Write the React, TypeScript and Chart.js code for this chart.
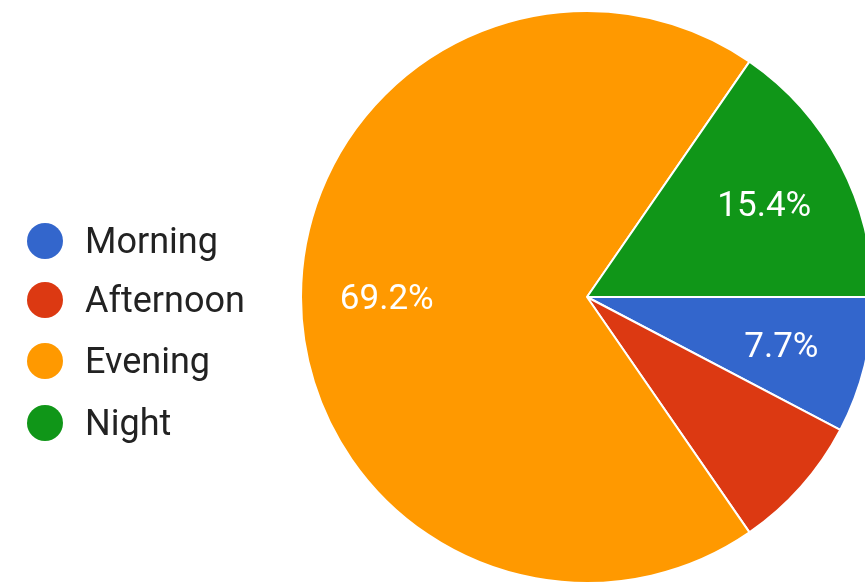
import React, { useEffect, useRef } from "react";
import { Chart, registerables } from "chart.js";

Chart.register(...registerables);

const categories = ["Morning", "Afternoon", "Evening", "Night"];
const responses = [1, 1, 9, 2];
const sliceColors = ["#3366cc", "#dc3912", "#ff9900", "#109618"];
const showSliceLabel = [true, false, true, true];

const CANVAS_W = 880;
const CANVAS_H = 587;

const sliceLabelPlugin = {
  id: "sliceLabels",
  afterDatasetsDraw(chart: any) {
    const ctx = chart.ctx;
    const meta = chart.getDatasetMeta(0);
    const data = chart.data.datasets[0].data as number[];
    const total = data.reduce((a, b) => a + b, 0);
    ctx.save();
    ctx.fillStyle = "#ffffff";
    ctx.font = "35px Roboto";
    ctx.textAlign = "center";
    ctx.textBaseline = "middle";
    meta.data.forEach((arc: any, i: number) => {
      if (!showSliceLabel[i]) return;
      const p = arc.getProps(["x", "y", "startAngle", "endAngle", "outerRadius"], true);
      const mid = (p.startAngle + p.endAngle) / 2;
      const r = p.outerRadius * 0.7;
      const txt = ((data[i] / total) * 100).toFixed(1) + "%";
      ctx.fillText(txt, p.x + Math.cos(mid) * r, p.y + Math.sin(mid) * r + 3);
    });
    ctx.restore();
  },
};

export default function App() {
  const canvasRef = useRef<HTMLCanvasElement | null>(null);

  useEffect(() => {
    if (!canvasRef.current) return;
    const chart = new Chart(canvasRef.current, {
      type: "pie",
      data: {
        labels: categories,
        datasets: [
          {
            data: responses,
            backgroundColor: sliceColors,
            borderColor: "#ffffff",
            borderWidth: 2,
          },
        ],
      },
      options: {
        responsive: false,
        maintainAspectRatio: false,
        devicePixelRatio: 1,
        animation: false,
        rotation: 90,
        layout: { padding: { left: 300, top: 10, right: 6, bottom: 3 } },
        plugins: {
          legend: { display: false },
          tooltip: { enabled: false },
        },
      },
      plugins: [sliceLabelPlugin],
    });
    return () => chart.destroy();
  }, []);

  const rowCenters = [241, 300, 361, 423];

  return (
    <div
      style={{
        position: "absolute",
        left: 0,
        top: 0,
        width: 865,
        height: 587,
        overflow: "hidden",
        background: "#ffffff",
      }}
    >
      <canvas
        ref={canvasRef}
        width={CANVAS_W}
        height={CANVAS_H}
        style={{ position: "absolute", left: 0, top: 0, width: CANVAS_W, height: CANVAS_H }}
      />
      {categories.map((c, i) => (
        <div
          key={c}
          style={{
            position: "absolute",
            left: 27,
            top: rowCenters[i] - 18,
            height: 36,
            display: "flex",
            alignItems: "center",
            fontFamily: "Roboto, sans-serif",
            fontSize: 36,
            lineHeight: "36px",
            color: "#222222",
            whiteSpace: "nowrap",
          }}
        >
          <span
            style={{
              display: "inline-block",
              width: 36,
              height: 36,
              borderRadius: "50%",
              background: sliceColors[i],
              marginRight: 22,
            }}
          />
          <span>{c}</span>
        </div>
      ))}
    </div>
  );
}
